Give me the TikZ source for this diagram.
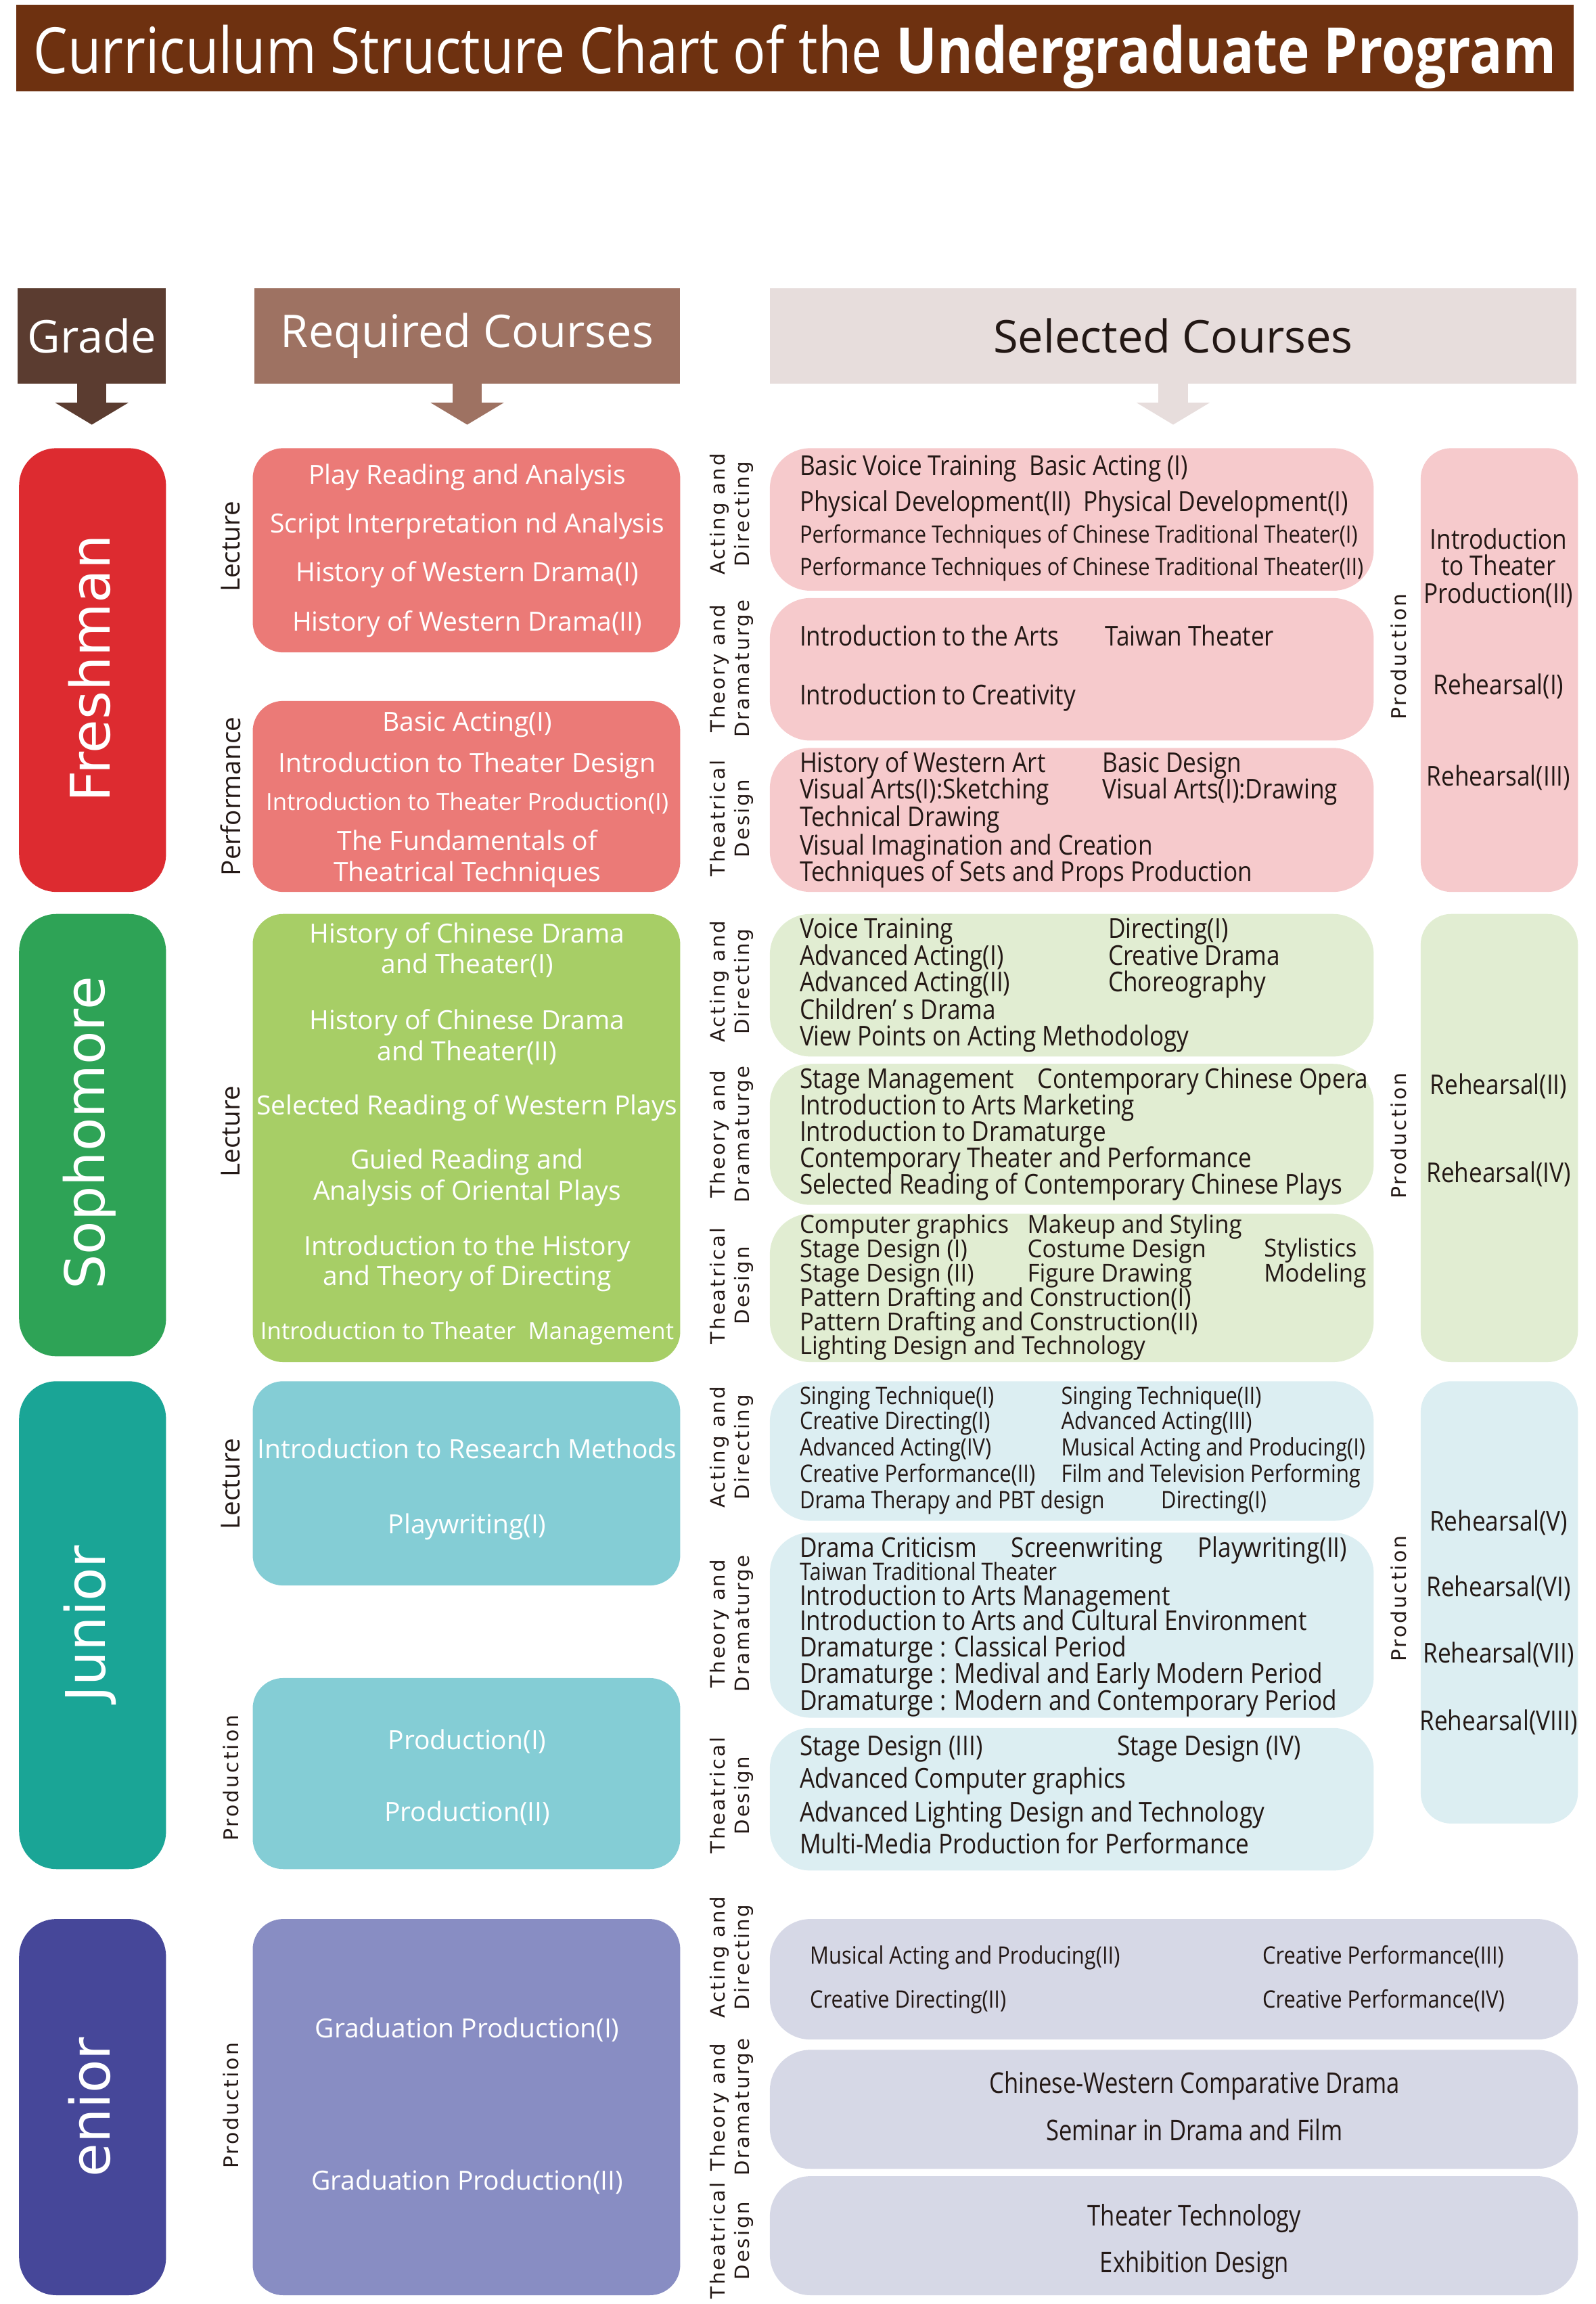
\documentclass[tikz,border=0pt]{standalone}
\usepackage{fontspec}
\setmainfont{Open Sans}
\newfontfamily\condf[FakeStretch=0.87]{Open Sans}
\newfontfamily\condg[FakeStretch=0.82]{Open Sans}
\newfontfamily\condh[FakeStretch=0.95]{Open Sans}
\newfontfamily\gradef{DejaVu Sans}
\newfontfamily\spcf[LetterSpace=10]{DejaVu Sans}
\definecolor{titlebg}{RGB}{110,49,16}
\definecolor{hgrade}{RGB}{91,60,48}
\definecolor{hreq}{RGB}{158,114,98}
\definecolor{hsel}{RGB}{231,221,220}
\definecolor{seltext}{RGB}{35,24,21}
\definecolor{g1c}{RGB}{221,43,48}
\definecolor{r1c}{RGB}{235,122,119}
\definecolor{s1c}{RGB}{246,202,204}
\definecolor{g2c}{RGB}{46,163,86}
\definecolor{r2c}{RGB}{167,206,102}
\definecolor{s2c}{RGB}{225,237,210}
\definecolor{g3c}{RGB}{26,165,150}
\definecolor{r3c}{RGB}{132,205,213}
\definecolor{s3c}{RGB}{220,238,242}
\definecolor{g4c}{RGB}{70,71,153}
\definecolor{r4c}{RGB}{136,141,195}
\definecolor{s4c}{RGB}{214,216,230}
\newcounter{tn}
\newcommand\putt[3][]{\stepcounter{tn}\node[#1] (t\arabic{tn}) at (#2) {#3};}
\newcommand\bx[6]{\node[#6, minimum width={(#4-#2)*0.021713cm}, minimum height={(#5-#3)*0.021713cm}] (#1) at ({(#2+#4)/2},{(#3+#5)/2}) {};}
\begin{document}
\begin{tikzpicture}[x=0.021713cm,y=-0.021713cm,
  box/.style={inner sep=0pt, outer sep=0pt, draw=none},
  gbox/.style={box, rounded corners=0.55cm},
  rbox/.style={box, rounded corners=0.45cm},
  sbox/.style={box, rounded corners=0.6cm},
  hbox/.style={box},
  req/.style={text=white, font=\fontsize{11.1}{12}\selectfont, inner sep=0pt, text height=8pt, text depth=2.3pt},
  reqs/.style={req, font=\fontsize{9.9}{11}\selectfont},
  sel/.style={text=seltext, font=\condf\fontsize{11.5}{12}\selectfont, anchor=west, inner sep=0pt, text height=8.2pt, text depth=2.4pt},
  selt/.style={sel, font=\condh\fontsize{10.4}{11}\selectfont, text height=7.5pt, text depth=2.1pt},
  sels/.style={sel, font=\condf\fontsize{10.1}{11}\selectfont},
  selc/.style={sel, anchor=center},
  selb/.style={sel, anchor=center, font=\condg\fontsize{12}{13}\selectfont},
  vlab/.style={rotate=90, align=center, font=\spcf\fontsize{8.3}{10.5}\selectfont, text=seltext, inner sep=0pt},
  plab/.style={rotate=90, font=\spcf\fontsize{8.5}{10}\selectfont, text=seltext, inner sep=0pt},
  llab/.style={rotate=90, font=\fontsize{11}{13}\selectfont, text=seltext, inner sep=0pt},
  glab/.style={rotate=90, font=\gradef\fontsize{23}{26}\selectfont, text=white, inner sep=0pt},
  hdr/.style={font=\fontsize{19}{22}\selectfont, inner sep=0pt}
]
\useasboundingbox (0,0) rectangle (1086,1568);
% title
\bx{titlebar}{11}{3}{1071}{62}{hbox, fill=titlebg}
\node[anchor=base, inner sep=0pt] (title) at (541,50) {\resizebox{22.5cm}{0.72cm}{\color{white}Curriculum Structure Chart of the \textbf{Undergraduate Program}}};
% headers
\bx{hg}{12}{196}{113}{261}{hbox, fill=hgrade}
\bx{hr}{173}{196}{463}{261}{hbox, fill=hreq}
\bx{hs}{524}{196}{1073}{261}{hbox, fill=hsel}
\node[hdr, text=white] (hgt) at (hg) {Grade};
\node[hdr, text=white] (hrt) at (hr) {Required Courses};
\node[hdr, text=seltext] (hst) at (hs) {Selected Courses};
\foreach \n/\c in {hg/hgrade,hr/hreq,hs/hsel}{
  \fill[\c] (\n.south) ++(-10,0) rectangle ++(20,13);
  \fill[\c] (\n.south) ++(-25,13) -- ++(50,0) -- ++(-25,15) -- cycle;
}
% ===== Freshman =====
\bx{g1}{13}{305}{113}{607}{gbox, fill=g1c}
\node[glab] (gl1) at (61,455) {Freshman};
\bx{r1a}{172}{305}{463}{444}{rbox, fill=r1c}
\bx{r1b}{172}{477}{463}{607}{rbox, fill=r1c}
\node[llab] (l1a) at (157,372) {Lecture};
\node[llab] (l1b) at (157,542) {Performance};
\putt[req]{318,325}{Play Reading and Analysis}
\putt[req]{318,358}{Script Interpretation nd Analysis}
\putt[req]{318,391}{History of Western Drama(I)}
\putt[req]{318,425}{History of Western Drama(II)}
\putt[req]{318,493}{Basic Acting(I)}
\putt[req]{318,521}{Introduction to Theater Design}
\putt[reqs]{318,547}{Introduction to Theater Production(I)}
\putt[req]{318,574}{The Fundamentals of}
\putt[req]{318,595}{Theatrical Techniques}
\bx{s1a}{524}{305}{935}{402}{sbox, fill=s1c}
\bx{s1b}{524}{407}{935}{504}{sbox, fill=s1c}
\bx{s1c}{524}{509}{935}{607}{sbox, fill=s1c}
\node[vlab] (v1a) at (498,350) {Acting and\\Directing};
\node[vlab] (v1b) at (498,455) {Theory and\\Dramaturge};
\node[vlab] (v1c) at (498,557) {Theatrical\\Design};
\putt[sel]{544,319}{Basic Voice Training\ \ Basic Acting (I)}
\putt[sel]{544,343}{Physical Development(II)\ \ Physical Development(I)}
\putt[sels]{544,365}{Performance Techniques of Chinese Traditional Theater(I)}
\putt[sels]{544,387}{Performance Techniques of Chinese Traditional Theater(II)}
\putt[sel]{544,435}{Introduction to the Arts}
\putt[sel]{752,435}{Taiwan Theater}
\putt[sel]{544,475}{Introduction to Creativity}
\putt[sel]{544,521}{History of Western Art}
\putt[sel]{750,521}{Basic Design}
\putt[sel]{544,539}{Visual Arts(I):Sketching}
\putt[sel]{750,539}{Visual Arts(I):Drawing}
\putt[sel]{544,558}{Technical Drawing}
\putt[sel]{544,577}{Visual Imagination and Creation}
\putt[sel]{544,595}{Techniques of Sets and Props Production}
\bx{p1}{967}{305}{1074}{607}{rbox, fill=s1c}
\node[plab] (pl1) at (952,447) {Production};
\putt[selc]{1020,369}{Introduction}
\putt[selc]{1020,387}{to Theater}
\putt[selc]{1020,406}{Production(II)}
\putt[selc]{1020,468}{Rehearsal(I)}
\putt[selc]{1020,530}{Rehearsal(III)}
% ===== Sophomore =====
\bx{g2}{13}{622}{113}{923}{gbox, fill=g2c}
\node[glab] (gl2) at (61,771) {Sophomore};
\bx{r2a}{172}{622}{463}{927}{rbox, fill=r2c}
\node[llab] (l2a) at (157,770) {Lecture};
\putt[req]{318,637}{History of Chinese Drama}
\putt[req]{318,658}{and Theater(I)}
\putt[req]{318,696}{History of Chinese Drama}
\putt[req]{318,717}{and Theater(II)}
\putt[req]{318,754}{Selected Reading of Western Plays}
\putt[req]{318,791}{Guied Reading and}
\putt[req]{318,812}{Analysis of Oriental Plays}
\putt[req]{318,850}{Introduction to the History}
\putt[req]{318,870}{and Theory of Directing}
\putt[reqs]{318,907}{Introduction to Theater\ \ Management}
\bx{s2a}{524}{622}{935}{719}{sbox, fill=s2c}
\bx{s2b}{524}{724}{935}{820}{sbox, fill=s2c}
\bx{s2c}{524}{826}{935}{927}{sbox, fill=s2c}
\node[vlab] (v2a) at (498,668) {Acting and\\Directing};
\node[vlab] (v2b) at (498,772) {Theory and\\Dramaturge};
\node[vlab] (v2c) at (498,875) {Theatrical\\Design};
\putt[sel]{544,634}{Voice Training}
\putt[sel]{754,634}{Directing(I)}
\putt[sel]{544,652}{Advanced Acting(I)}
\putt[sel]{754,652}{Creative Drama}
\putt[sel]{544,670}{Advanced Acting(II)}
\putt[sel]{754,670}{Choreography}
\putt[sel]{544,689}{Children’\ s Drama}
\putt[sel]{544,707}{View Points on Acting Methodology}
\putt[sel]{544,736}{Stage Management}
\putt[sel]{706,736}{Contemporary Chinese Opera}
\putt[sel]{544,754}{Introduction to Arts Marketing}
\putt[sel]{544,772}{Introduction to Dramaturge}
\putt[sel]{544,790}{Contemporary Theater and Performance}
\putt[sel]{544,808}{Selected Reading of Contemporary Chinese Plays}
\putt[selt]{544,835}{Computer graphics}
\putt[selt]{699,835}{Makeup and Styling}
\putt[selt]{544,851.5}{Stage Design (I)}
\putt[selt]{699,851.5}{Costume Design}
\putt[selt]{860,851}{Stylistics}
\putt[selt]{544,868}{Stage Design (II)}
\putt[selt]{699,868}{Figure Drawing}
\putt[selt]{860,868}{Modeling}
\putt[selt]{544,884.5}{Pattern Drafting and Construction(I)}
\putt[selt]{544,901}{Pattern Drafting and Construction(II)}
\putt[selt]{544,917.5}{Lighting Design and Technology}
\bx{p2}{967}{622}{1074}{927}{rbox, fill=s2c}
\node[plab] (pl2) at (952,773) {Production};
\putt[selc]{1020,740}{Rehearsal(II)}
\putt[selc]{1020,800}{Rehearsal(IV)}
% ===== Junior =====
\bx{g3}{13}{940}{113}{1272}{gbox, fill=g3c}
\node[glab] (gl3) at (61,1105) {Junior};
\bx{r3a}{172}{940}{463}{1079}{rbox, fill=r3c}
\bx{r3b}{172}{1142}{463}{1272}{rbox, fill=r3c}
\node[llab] (l3a) at (157,1010) {Lecture};
\node[plab] (l3b) at (157,1210) {Production};
\putt[req]{318,988}{Introduction to Research Methods}
\putt[req]{318,1039}{Playwriting(I)}
\putt[req]{318,1186}{Production(I)}
\putt[req]{318,1235}{Production(II)}
\bx{s3a}{524}{940}{935}{1035}{sbox, fill=s3c}
\bx{s3b}{524}{1043}{935}{1169}{sbox, fill=s3c}
\bx{s3c}{524}{1176}{935}{1273}{sbox, fill=s3c}
\node[vlab] (v3a) at (498,985) {Acting and\\Directing};
\node[vlab] (v3b) at (498,1105) {Theory and\\Dramaturge};
\node[vlab] (v3c) at (498,1222) {Theatrical\\Design};
\putt[sels]{544,951}{Singing Technique(I)}
\putt[sels]{722,951}{Singing Technique(II)}
\putt[sels]{544,968}{Creative Directing(I)}
\putt[sels]{722,968}{Advanced Acting(III)}
\putt[sels]{544,986}{Advanced Acting(IV)}
\putt[sels]{722,986}{Musical Acting and Producing(I)}
\putt[sels]{544,1004}{Creative Performance(II)}
\putt[sels]{722,1004}{Film and Television Performing}
\putt[sels]{544,1022}{Drama Therapy and PBT design}
\putt[sels]{790,1022}{Directing(I)}
\putt[sel]{544,1055}{Drama Criticism}
\putt[sel]{688,1055}{Screenwriting}
\putt[sel]{815,1055}{Playwriting(II)}
\putt[sels]{544,1071}{Taiwan Traditional Theater}
\putt[sel]{544,1088}{Introduction to Arts Management}
\putt[sel]{544,1105}{Introduction to Arts and Cultural Environment}
\putt[sel]{544,1123}{Dramaturge : Classical Period}
\putt[sel]{544,1141}{Dramaturge : Medival and Early Modern Period}
\putt[sel]{544,1159}{Dramaturge : Modern and Contemporary Period}
\putt[sel]{544,1190}{Stage Design (III)}
\putt[sel]{760,1190}{Stage Design (IV)}
\putt[sel]{544,1212}{Advanced Computer graphics}
\putt[sel]{544,1235}{Advanced Lighting Design and Technology}
\putt[sel]{544,1257}{Multi-Media Production for Performance}
\bx{p3}{967}{940}{1074}{1241}{rbox, fill=s3c}
\node[plab] (pl3) at (952,1088) {Production};
\putt[selc]{1020,1037}{Rehearsal(V)}
\putt[selc]{1020,1082}{Rehearsal(VI)}
\putt[selc]{1020,1127}{Rehearsal(VII)}
\putt[selc]{1020,1173}{Rehearsal(VIII)}
% ===== Senior =====
\bx{g4}{13}{1306}{113}{1562}{gbox, fill=g4c}
\node[glab] (gl4) at (61,1434) {enior};
\bx{r4a}{172}{1306}{463}{1562}{rbox, fill=r4c}
\node[plab] (l4a) at (157,1433) {Production};
\putt[req]{318,1382}{Graduation Production(I)}
\putt[req]{318,1486}{Graduation Production(II)}
\bx{s4a}{524}{1306}{1074}{1388}{sbox, fill=s4c}
\bx{s4b}{524}{1395}{1074}{1476}{sbox, fill=s4c}
\bx{s4c}{524}{1481}{1074}{1562}{sbox, fill=s4c}
\node[vlab] (v4a) at (498,1332) {Acting and\\Directing};
\node[vlab] (v4b) at (498,1434) {Theory and\\Dramaturge};
\node[vlab] (v4c) at (498,1525) {Theatrical\\Design};
\putt[sels]{551,1332}{Musical Acting and Producing(II)}
\putt[sels]{859,1332}{Creative Performance(III)}
\putt[sels]{551,1362}{Creative Directing(II)}
\putt[sels]{859,1362}{Creative Performance(IV)}
\putt[selb]{813,1420}{Chinese-Western Comparative Drama}
\putt[selb]{813,1452}{Seminar in Drama and Film}
\putt[selb]{813,1510}{Theater Technology}
\putt[selb]{813,1542}{Exhibition Design}
\end{tikzpicture}
\end{document}
